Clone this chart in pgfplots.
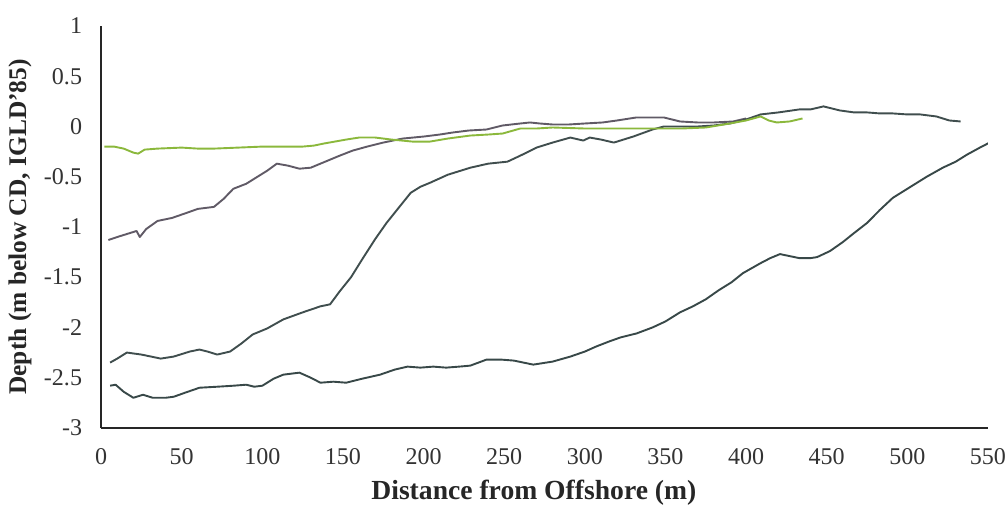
\documentclass[border=0pt]{standalone}
\usepackage{fontspec}
\setmainfont{Liberation Serif}
\usepackage{pgfplots}
\pgfplotsset{compat=1.18}
\definecolor{lineA}{RGB}{96,90,102}
\definecolor{lineB}{RGB}{64,78,78}
\definecolor{lineC}{RGB}{56,72,72}
\definecolor{lineG}{RGB}{139,184,60}
\begin{document}
\begin{tikzpicture}
\begin{axis}[
  scale only axis,
  width=443pt, height=200.75pt,
  xmin=0, xmax=550, ymin=-3, ymax=1,
  axis lines*=left,
  axis line style={-, black!85, line width=0.9pt},
  xtick={0,50,...,550},
  ytick={-3,-2.5,...,1},
  major tick length=0pt,
  /pgf/number format/assume math mode=true,
  /pgf/number format/fixed,
  ticklabel style={font=\fontsize{12}{14}\selectfont, text=black!80},
  xticklabel style={yshift=-7pt},
  yticklabel style={xshift=-6pt},
  xlabel={Distance from Offshore (m)},
  ylabel={Depth (m below CD, IGLD'85)},
  xlabel style={at={(axis description cs:0.488,0)}, anchor=center, yshift=-32.5pt, font=\fontsize{13.8}{15}\selectfont\bfseries, text=black!85},
  ylabel style={at={(axis description cs:-0.0914,0.50)}, anchor=center, font=\fontsize{12.7}{15}\selectfont\bfseries, text=black!85},
  every axis plot/.append style={line width=0.95pt, line join=round},
]
\addplot[lineA] coordinates {(4.5,-1.13) (10,-1.10) (16,-1.07) (22,-1.04) (24,-1.10) (28,-1.02) (35,-0.94) (44,-0.91) (53,-0.86) (60,-0.82) (70,-0.80) (76,-0.72) (82,-0.62) (90,-0.57) (97,-0.50) (103,-0.44) (109,-0.37) (116,-0.39) (123,-0.42) (130,-0.41) (136,-0.37) (142,-0.33) (148,-0.29) (156,-0.24) (165,-0.20) (175,-0.16) (187,-0.12) (200,-0.10) (210,-0.08) (218,-0.06) (228,-0.04) (239,-0.03) (249,0.01) (260,0.03) (266,0.04) (272,0.03) (280,0.02) (290,0.02) (300,0.03) (311,0.04) (320,0.06) (332,0.09) (340,0.09) (349,0.09) (359,0.05) (370,0.04) (380,0.04) (392,0.05) (400,0.08)};
\addplot[lineB] coordinates {(5.6,-2.35) (10,-2.31) (16,-2.25) (25,-2.27) (37,-2.31) (45,-2.29) (55,-2.24) (61,-2.22) (66,-2.24) (72,-2.27) (80,-2.24) (87,-2.16) (94,-2.07) (103,-2.01) (113,-1.92) (125,-1.85) (136,-1.79) (142,-1.77) (148,-1.64) (155,-1.50) (162,-1.32) (170,-1.12) (177,-0.96) (185,-0.80) (192,-0.66) (198,-0.60) (204,-0.56) (215,-0.48) (229,-0.41) (240,-0.37) (252,-0.35) (260,-0.29) (270,-0.21) (280,-0.16) (291,-0.11) (299,-0.14) (303,-0.11) (310,-0.13) (318,-0.16) (330,-0.10) (342,-0.03) (349,0.00) (360,0.00) (370,0.00) (380,0.01) (390,0.03) (400,0.07) (409,0.12) (420,0.14) (433,0.17) (440,0.17) (448,0.20) (458,0.16) (467,0.14) (475,0.14) (483,0.13) (491,0.13) (500,0.12) (508,0.12) (518,0.10) (526,0.06) (533,0.05)};
\addplot[lineC] coordinates {(5.6,-2.58) (9,-2.57) (14,-2.64) (20,-2.70) (26,-2.67) (32,-2.70) (40,-2.70) (45,-2.69) (52,-2.65) (61,-2.60) (72,-2.59) (82,-2.58) (90,-2.57) (95,-2.59) (100,-2.58) (107,-2.51) (113,-2.47) (123,-2.45) (130,-2.50) (136,-2.55) (144,-2.54) (152,-2.55) (162,-2.51) (173,-2.47) (182,-2.42) (190,-2.39) (198,-2.40) (206,-2.39) (214,-2.40) (222,-2.39) (229,-2.38) (239,-2.32) (248,-2.32) (256,-2.33) (262,-2.35) (268,-2.37) (280,-2.34) (291,-2.29) (300,-2.24) (307,-2.19) (315,-2.14) (322,-2.10) (332,-2.06) (342,-2.00) (350,-1.94) (359,-1.85) (367,-1.79) (375,-1.72) (383,-1.63) (391,-1.55) (398,-1.46) (409,-1.36) (415,-1.31) (421,-1.27) (427,-1.29) (433,-1.31) (440,-1.31) (444,-1.30) (452,-1.24) (460,-1.15) (467,-1.06) (475,-0.96) (483,-0.83) (491,-0.71) (500,-0.62) (512,-0.50) (522,-0.41) (530,-0.35) (537,-0.28) (545,-0.21) (551,-0.16)};
\addplot[lineG] coordinates {(2,-0.20) (8,-0.20) (14,-0.22) (20,-0.26) (23,-0.27) (27,-0.23) (35,-0.22) (50,-0.21) (60,-0.22) (70,-0.22) (85,-0.21) (100,-0.20) (115,-0.20) (125,-0.20) (132,-0.19) (138,-0.17) (145,-0.15) (152,-0.13) (160,-0.11) (170,-0.11) (180,-0.13) (193,-0.15) (204,-0.15) (215,-0.12) (229,-0.09) (240,-0.08) (249,-0.07) (260,-0.02) (270,-0.02) (280,-0.01) (300,-0.02) (320,-0.02) (340,-0.02) (360,-0.02) (375,-0.01) (390,0.03) (400,0.06) (409,0.10) (414,0.06) (419,0.04) (427,0.05) (435,0.08)};
\end{axis}
\pgfresetboundingbox
\path ([xshift=-50.5pt,yshift=-39.25pt]current axis.south west) rectangle ([xshift=10pt,yshift=13pt]current axis.north east);
\end{tikzpicture}
\end{document}
